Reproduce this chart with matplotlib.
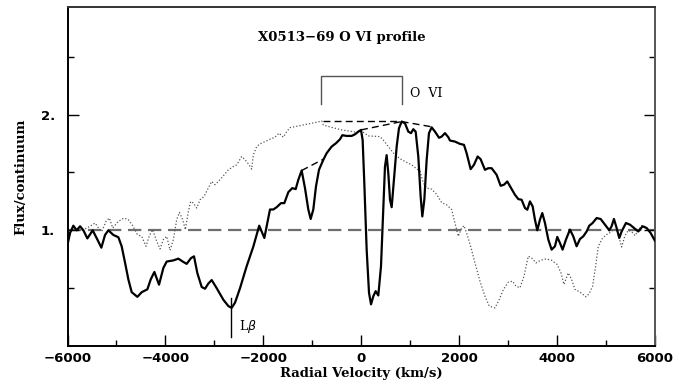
import matplotlib
matplotlib.use('Agg')
import matplotlib.pyplot as plt
from matplotlib.ticker import MultipleLocator, FixedLocator, FuncFormatter

# observed O VI profile (solid)
vel = [-6000, -5949, -5881, -5813, -5744, -5676, -5595, -5486, -5390, -5309,
       -5234, -5166, -5064, -4961, -4893, -4825, -4757, -4689, -4573, -4485,
       -4369, -4301, -4226, -4131, -4042, -3974, -3838, -3736, -3647, -3566,
       -3477, -3416, -3348, -3259, -3191, -3123, -3055, -2953, -2817, -2714,
       -2646, -2578, -2476, -2340, -2204, -2084, -1979, -1864, -1796, -1727,
       -1639, -1571, -1489, -1408, -1339, -1285, -1217, -1149, -1081, -1033,
       -979, -924, -863, -774, -706, -604, -515, -434, -386, -298,
       -195, -127, -59, -5, 29, 63, 111, 159, 200, 247,
       295, 349, 404, 451, 485, 519, 554, 588, 622, 663,
       724, 771, 826, 894, 962, 1017, 1064, 1112, 1166, 1214,
       1248, 1289, 1337, 1384, 1439, 1507, 1589, 1643, 1711, 1779,
       1813, 1915, 2017, 2099, 2153, 2235, 2303, 2378, 2439, 2528,
       2596, 2664, 2766, 2848, 2916, 2984, 3052, 3141, 3209, 3277,
       3345, 3393, 3447, 3502, 3549, 3597, 3651, 3699, 3754, 3822,
       3890, 3958, 4005, 4060, 4114, 4183, 4264, 4332, 4400, 4469,
       4537, 4605, 4659, 4727, 4809, 4891, 4979, 5068, 5115, 5163,
       5218, 5272, 5320, 5408, 5490, 5572, 5660, 5749, 5830, 5912, 6000]
flux = [0.876, 0.977, 1.04, 1.0, 1.035, 1.0, 0.93, 1.0, 0.92, 0.85,
        0.96, 1.0, 0.96, 0.94, 0.86, 0.72, 0.575, 0.465, 0.425, 0.465,
        0.49, 0.575, 0.64, 0.53, 0.675, 0.73, 0.74, 0.755, 0.73, 0.71,
        0.76, 0.775, 0.63, 0.51, 0.495, 0.54, 0.57, 0.50, 0.40, 0.345,
        0.33, 0.375, 0.50, 0.69, 0.86, 1.04, 0.934, 1.18, 1.18, 1.2,
        1.235, 1.235, 1.33, 1.365, 1.356, 1.437, 1.517, 1.365, 1.18, 1.098,
        1.18, 1.38, 1.523, 1.61, 1.667, 1.724, 1.753, 1.787, 1.822, 1.816,
        1.816, 1.83, 1.853, 1.868, 1.78, 1.41, 0.833, 0.46, 0.36, 0.43,
        0.474, 0.437, 0.69, 1.18, 1.55, 1.65, 1.49, 1.264, 1.2, 1.41,
        1.724, 1.882, 1.94, 1.925, 1.853, 1.84, 1.874, 1.853, 1.638, 1.293,
        1.12, 1.264, 1.61, 1.84, 1.89, 1.853, 1.8, 1.81, 1.84, 1.805,
        1.776, 1.767, 1.747, 1.739, 1.667, 1.529, 1.566, 1.638, 1.615, 1.523,
        1.537, 1.537, 1.48, 1.385, 1.394, 1.422, 1.373, 1.307, 1.27, 1.264,
        1.193, 1.178, 1.25, 1.207, 1.092, 1.0, 1.092, 1.149, 1.063, 0.92,
        0.833, 0.862, 0.943, 0.89, 0.833, 0.92, 1.006, 0.948, 0.862, 0.925,
        0.948, 0.99, 1.04, 1.063, 1.106, 1.098, 1.049, 1.0, 1.035, 1.098,
        1.02, 0.934, 0.99, 1.063, 1.049, 1.02, 0.99, 1.035, 1.02, 0.977, 0.91]

# reflected profile (dotted)
vel_r = [-5700, -5540, -5438, -5350, -5302, -5213, -5145, -5077, -4961, -4846,
         -4757, -4669, -4573, -4485, -4397, -4328, -4260, -4192, -4110, -4042,
         -3974, -3906, -3838, -3770, -3715, -3647, -3593, -3531, -3484, -3430,
         -3361, -3293, -3212, -3123, -3055, -2987, -2919, -2817, -2714, -2612,
         -2544, -2442, -2374, -2306, -2238, -2204, -2136, -2068, -1966, -1864,
         -1761, -1680, -1591, -1523, -1455, -1285, -1081, -910, -808, -774,
         -604, -400, -127, 0, 145, 384, 451, 554, 690, 826,
         1030, 1200, 1268, 1337, 1439, 1541, 1643, 1745, 1847, 1915,
         1983, 2051, 2099, 2153, 2235, 2324, 2426, 2528, 2616, 2732,
         2821, 2903, 3005, 3093, 3161, 3243, 3325, 3413, 3481, 3570,
         3665, 3774, 3890, 4005, 4080, 4142, 4230, 4298, 4366, 4469,
         4591, 4659, 4727, 4789, 4843, 4932, 5013, 5095, 5163, 5231,
         5320, 5388, 5456, 5524, 5592, 5660, 5728, 5817, 5898]
flux_r = [1.0, 1.035, 1.063, 1.01, 0.99, 1.078, 1.106, 1.02, 1.078, 1.106,
          1.092, 1.04, 0.963, 0.948, 0.862, 0.954, 1.006, 0.92, 0.839, 0.92,
          0.948, 0.828, 0.92, 1.092, 1.155, 1.092, 1.006, 1.164, 1.25, 1.236,
          1.193, 1.264, 1.293, 1.365, 1.422, 1.394, 1.422, 1.471, 1.523, 1.552,
          1.566, 1.638, 1.61, 1.575, 1.529, 1.652, 1.724, 1.747, 1.767, 1.787,
          1.805, 1.84, 1.805, 1.853, 1.888, 1.902, 1.92, 1.934, 1.945, 1.91,
          1.89, 1.868, 1.85, 1.86, 1.816, 1.81, 1.78, 1.724, 1.652, 1.61,
          1.566, 1.51, 1.41, 1.365, 1.356, 1.31, 1.24, 1.22, 1.18, 1.063,
          0.948, 1.02, 1.04, 0.977, 0.862, 0.718, 0.56, 0.431, 0.345, 0.33,
          0.402, 0.488, 0.552, 0.56, 0.517, 0.503, 0.603, 0.776, 0.761, 0.718,
          0.741, 0.753, 0.741, 0.704, 0.632, 0.532, 0.632, 0.575, 0.489, 0.466,
          0.425, 0.454, 0.517, 0.69, 0.862, 0.934, 0.963, 0.983, 1.011, 0.991,
          0.856, 0.954, 1.0, 0.99, 0.954, 1.0, 1.04, 1.03, 0.99]

# continuum guesses drawn across the absorption lines
cont_segs = [([-1217, -774], [1.517, 1.615]),
             ([-790, 826], [1.948, 1.948]),
             ([-5, 826], [1.868, 1.94]),
             ([826, 1439], [1.94, 1.895])]

ovi_v = [-828, 832]      # O VI doublet marks
lyb_v = -2660            # L beta

fig = plt.figure(figsize=(6.87, 3.83), dpi=100)
ax = fig.add_axes([0.0983, 0.0966, 0.855, 0.885])

ax.axhline(1.0, color='#6e6e6e', lw=1.6, ls=(0, (6, 3)), zorder=1)
ax.plot(vel_r, flux_r, color='#555555', lw=0.9, ls=(0, (1, 1.6)), zorder=2)
for xs, ys in cont_segs:
    ax.plot(xs, ys, color='black', lw=1.0, ls=(0, (5, 3)), zorder=2)
ax.plot(vel, flux, color='black', lw=1.6, solid_joinstyle='round', zorder=3)

# O VI bracket
ax.plot([ovi_v[0], ovi_v[0], ovi_v[1], ovi_v[1]], [2.09, 2.334, 2.334, 2.09],
        color='#555555', lw=1.0)
ax.text(1005, 2.185, 'O  VI', family='DejaVu Serif', fontsize=9,
        ha='left', va='center')

# L beta marker
ax.plot([lyb_v, lyb_v], [0.082, 0.418], color='black', lw=1.0)
ax.text(-2500, 0.17, r'L$\beta$', family='DejaVu Serif', fontsize=9,
        ha='left', va='center')

ax.text(-390, 2.67, 'X0513\u221269 O VI profile', family='DejaVu Serif',
        fontweight='bold', fontsize=9.5, ha='center', va='center')

ax.set_xlim(-6000, 6000)
ax.set_ylim(0, 2.93)
ax.xaxis.set_major_locator(MultipleLocator(2000))
ax.xaxis.set_minor_locator(MultipleLocator(1000))
ax.yaxis.set_major_locator(FixedLocator([1, 2]))
ax.yaxis.set_minor_locator(FixedLocator([0.5, 1.5, 2.5]))
ax.yaxis.set_major_formatter(FuncFormatter(lambda y, p: '%d.' % y))
ax.xaxis.set_major_formatter(FuncFormatter(lambda x, p: ('%d' % x).replace('-', '\u2212')))
ax.tick_params(which='both', direction='in', right=True, top=False, width=1.0)
ax.tick_params(which='major', length=8, labelsize=9.5)
ax.tick_params(axis='x', which='major', pad=4)
ax.tick_params(axis='y', which='major', pad=9)
ax.tick_params(which='minor', length=4)
for lab in ax.get_xticklabels() + ax.get_yticklabels():
    lab.set_fontweight('bold')
for s in ax.spines.values():
    s.set_linewidth(1.4)
ax.spines['right'].set_color('#555555')
ax.spines['top'].set_color('#333333')

ax.set_xlabel('Radial Velocity (km/s)', family='DejaVu Serif', fontweight='bold',
              fontsize=9.5, labelpad=2)
ax.set_ylabel('Flux/continuum', family='DejaVu Serif', fontweight='bold',
              fontsize=9.5, labelpad=10)

fig.savefig('out.png', dpi=100)
